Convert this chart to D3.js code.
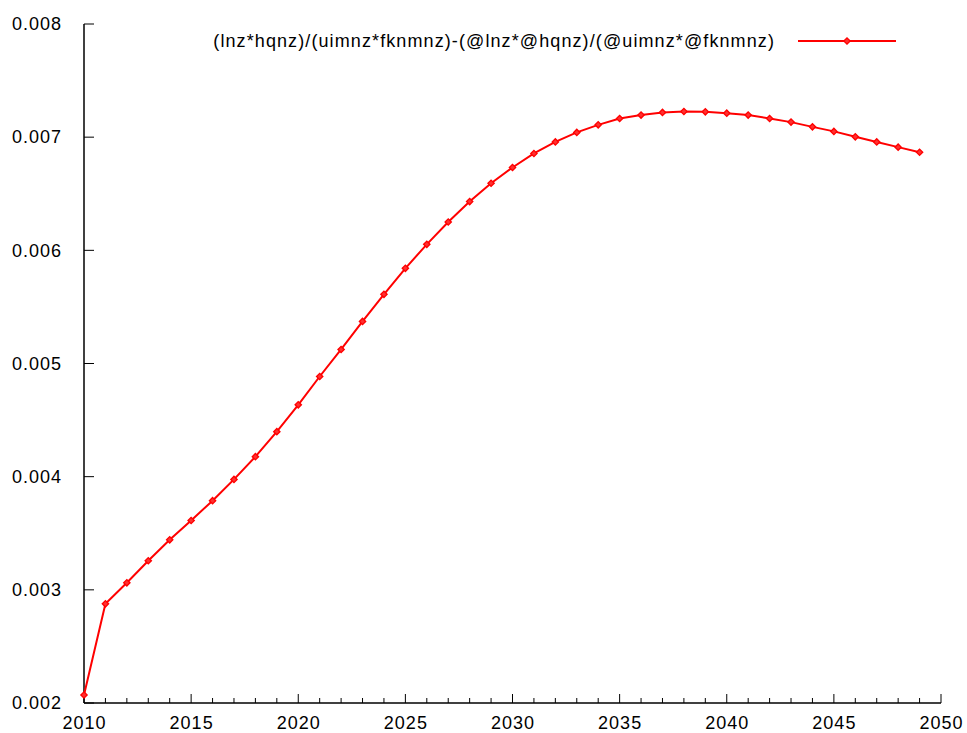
<!DOCTYPE html>
<html>
<head>
<meta charset="utf-8">
<script src="https://d3js.org/d3.v7.min.js"></script>
<style>
  body { margin: 0; background: #fff; }
  svg { display: block; font-family: "Liberation Sans", Arial, Helvetica, sans-serif; }
</style>
</head>
<body>
<div id="chart"></div>
<script>
// data
const years = d3.range(2010, 2050);
const values = [
  0.002071, 0.002876, 0.003062, 0.003257, 0.003442, 0.003613, 0.003788, 0.003976,
  0.004177, 0.004398, 0.004635, 0.004885, 0.005124, 0.005372, 0.005611, 0.005841,
  0.006053, 0.006250, 0.006431, 0.006593, 0.006732, 0.006856, 0.006958, 0.007042,
  0.007109, 0.007165, 0.007195, 0.007219, 0.007227, 0.007224, 0.007212, 0.007195,
  0.007165, 0.007133, 0.007091, 0.007051, 0.007003, 0.006958, 0.006912, 0.006867
];
const xTicks = [2010, 2015, 2020, 2025, 2030, 2035, 2040, 2045, 2050];
const yTicks = [0.002, 0.003, 0.004, 0.005, 0.006, 0.007, 0.008];
const seriesName = "(lnz*hqnz)/(uimnz*fknmnz)-(@lnz*@hqnz)/(@uimnz*@fknmnz)";

const width = 967, height = 733;
const plotLeft = 84, plotRight = 941, plotTop = 24, plotBottom = 703;
const color = "#ff0000";

const svg = d3.select("#chart").append("svg")
  .attr("width", width).attr("height", height);

const x = d3.scaleLinear().domain([2010, 2050]).range([plotLeft, plotRight]);
const y = d3.scaleLinear().domain([0.002, 0.008]).range([plotBottom, plotTop]);

// x axis with minor ticks every year
const gx = svg.append("g").attr("transform", "translate(0," + plotBottom + ")");
gx.append("line").attr("x1", plotLeft).attr("x2", plotRight).attr("stroke", "#000").attr("stroke-width", 1.5);
gx.selectAll(".minor").data(d3.range(2010, 2051).filter(d => d % 5 !== 0)).enter()
  .append("line").attr("class", "minor")
  .attr("x1", d => x(d)).attr("x2", d => x(d))
  .attr("y1", 0).attr("y2", -5)
  .attr("stroke", "#000");
gx.selectAll(".major").data(xTicks).enter()
  .append("line").attr("class", "major")
  .attr("x1", d => x(d)).attr("x2", d => x(d))
  .attr("y1", 0).attr("y2", -9)
  .attr("stroke", "#000");
gx.selectAll("text").data(xTicks).enter()
  .append("text")
  .attr("x", d => x(d) + 0.5).attr("y", 26)
  .attr("text-anchor", "middle")
  .attr("font-size", 18)
  .attr("letter-spacing", 1)
  .text(d => d);

// y axis
const gy = svg.append("g").attr("transform", "translate(" + plotLeft + ",0)");
gy.append("line").attr("y1", plotTop).attr("y2", plotBottom).attr("stroke", "#000").attr("stroke-width", 1.5);
gy.selectAll(".major").data(yTicks).enter()
  .append("line").attr("class", "major")
  .attr("y1", d => y(d)).attr("y2", d => y(d))
  .attr("x1", 0).attr("x2", 10)
  .attr("stroke", "#000");
gy.selectAll("text").data(yTicks).enter()
  .append("text")
  .attr("x", -22).attr("y", d => y(d))
  .attr("dy", "0.35em")
  .attr("text-anchor", "end")
  .attr("font-size", 18)
  .attr("letter-spacing", 1)
  .text(d => d3.format(".3f")(d));

// series line
const line = d3.line().x((d, i) => x(years[i])).y(d => y(d));
svg.append("path")
  .datum(values)
  .attr("d", line)
  .attr("fill", "none")
  .attr("stroke", color)
  .attr("stroke-width", 2);

// diamond marker: square turned 45 degrees
const diamond = d3.symbol().type(d3.symbolSquare).size(20);
svg.append("g").selectAll("path").data(values).enter()
  .append("path")
  .attr("transform", (d, i) => "translate(" + x(years[i]) + "," + y(d) + ") rotate(45)")
  .attr("d", diamond)
  .attr("fill", "#ff3030")
  .attr("stroke", color)
  .attr("stroke-width", 1.3);

// legend
const legend = svg.append("g").attr("transform", "translate(0,41)");
legend.append("text")
  .attr("x", 775).attr("y", 0).attr("dy", "0.35em")
  .attr("text-anchor", "end")
  .attr("font-size", 18)
  .attr("letter-spacing", 1.1)
  .text(seriesName);
legend.append("line")
  .attr("x1", 798).attr("x2", 896)
  .attr("stroke", color).attr("stroke-width", 2);
legend.append("path")
  .attr("transform", "translate(847,0) rotate(45)")
  .attr("d", diamond)
  .attr("fill", "#ff3030")
  .attr("stroke", color)
  .attr("stroke-width", 1.3);
</script>
</body>
</html>
